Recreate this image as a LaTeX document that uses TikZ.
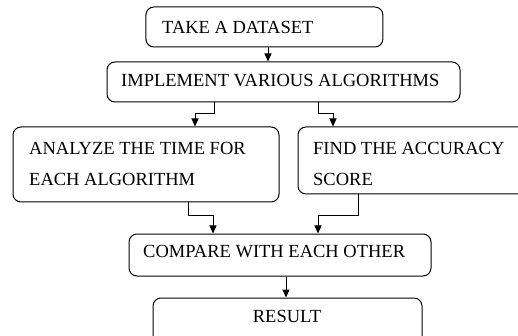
\documentclass[tikz,border=0pt]{standalone}
\usepackage{fontspec}
\setmainfont{Liberation Serif}
\usetikzlibrary{arrows.meta}
\begin{document}
\begin{tikzpicture}[x=1pt,y=-1pt,
  box/.style={draw, line width=1pt, rounded corners=8pt, inner sep=0pt},
  lbl/.style={inner sep=0pt, anchor=west, font=\fontsize{18.5}{22}\selectfont},
  arr/.style={line width=1pt, -{Triangle[length=8pt,width=7pt]}}]
\useasboundingbox (0,0) rectangle (518,336);
\begin{scope}
\clip (0,0) rectangle (518,336);
\node[box, minimum width=237pt, minimum height=40pt] (b1) at (264.4,27) {};
\node[box, minimum width=353pt, minimum height=40pt] (b2) at (283.5,82) {};
\node[box, minimum width=266pt, minimum height=75pt] (b3) at (146,164.5) {};
\node[box, minimum width=232pt, minimum height=67pt] (b4) at (414,160.5) {};
\node[box, minimum width=302pt, minimum height=42pt] (b5) at (280,255) {};
\node[box, minimum width=269pt, minimum height=47pt] (b6) at (287.5,321.5) {};
\end{scope}
\node[lbl] (t1) at (162,27) {TAKE A DATASET};
\node[lbl] (t2) at (121,80.5) {IMPLEMENT VARIOUS ALGORITHMS};
\node[lbl] (t3a) at (29,148.5) {ANALYZE THE TIME FOR};
\node[lbl] (t3b) at (29,179.5) {EACH ALGORITHM};
\node[lbl] (t4a) at (313,148.5) {FIND THE ACCURACY};
\node[lbl] (t4b) at (313,179.5) {SCORE};
\node[lbl] (t5) at (143,252) {COMPARE WITH EACH OTHER};
\node[lbl, anchor=center] (t6) at (287,316) {RESULT};
\draw[arr] (b1.south -| 268,0) -- (b2.north -| 268,0);
\draw[arr] (b2.south -| 214,0) -- (214,114) -| (b3.north -| 195,0);
\draw[arr] (b2.south -| 318,0) -- (318,114) -| (b4.north -| 333,0);
\draw[arr] (b3.south -| 188,0) -- (188,216) -| (b5.north -| 213,0);
\draw[arr] (b4.south -| 358,0) -- (358,216) -| (b5.north -| 318,0);
\draw[arr] (b5.south -| 286,0) -- (b6.north -| 286,0);
\end{tikzpicture}
\end{document}
